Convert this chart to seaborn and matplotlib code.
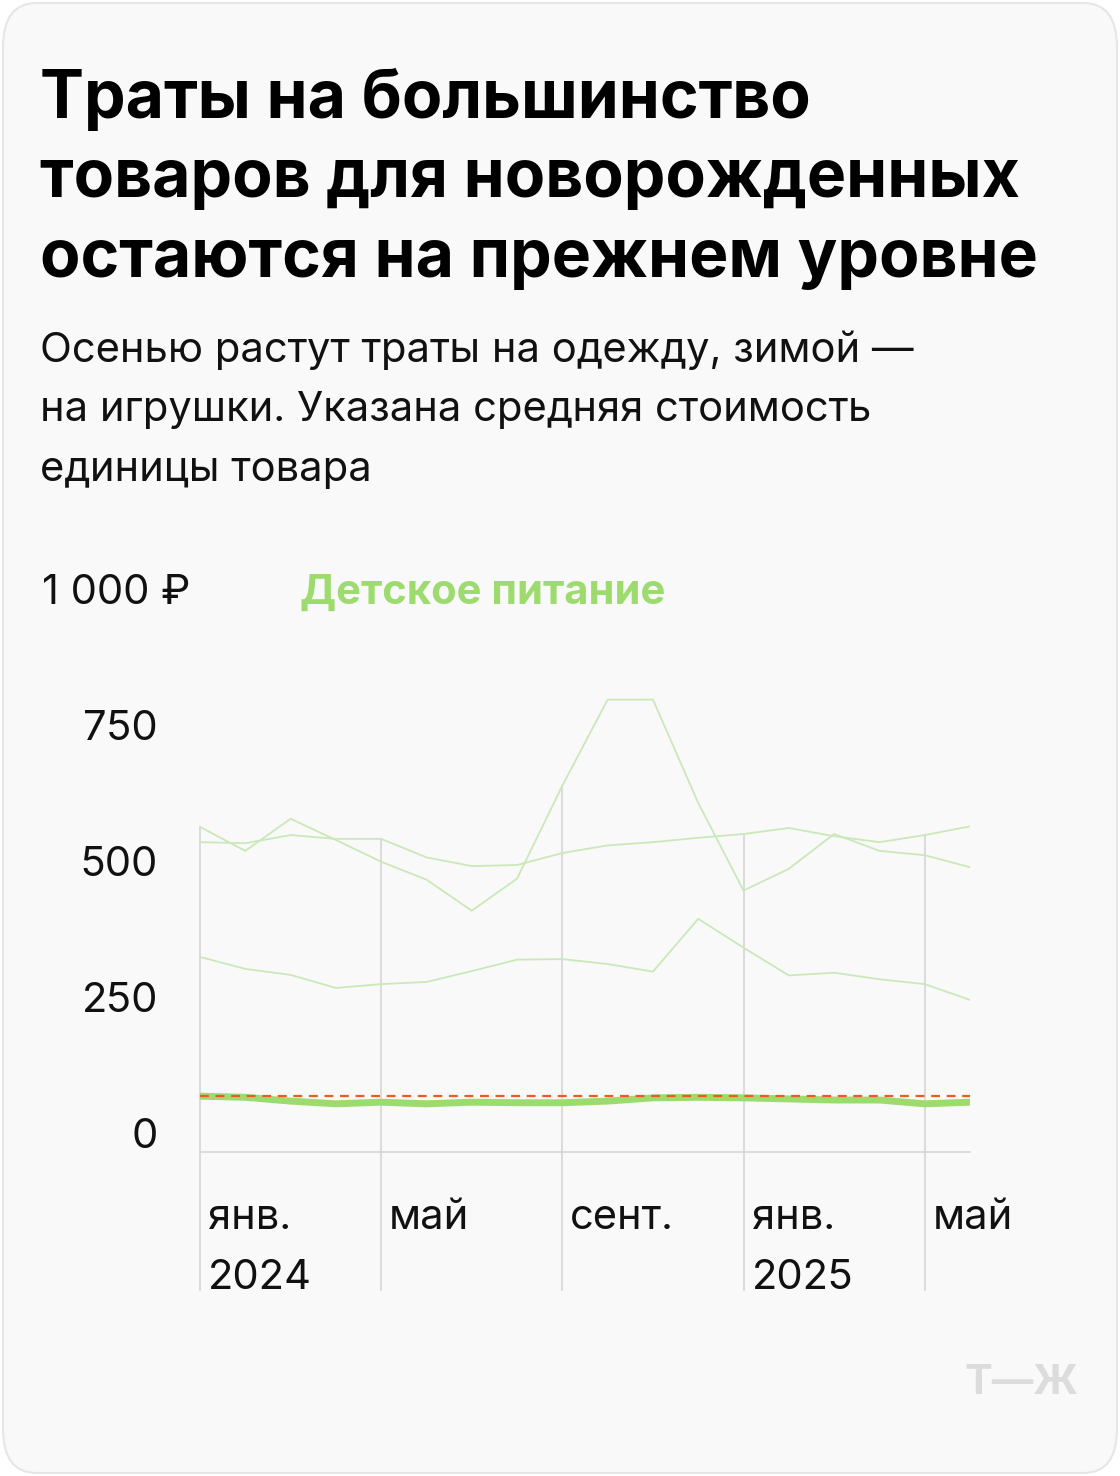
import matplotlib
matplotlib.use("Agg")
import matplotlib.pyplot as plt
import seaborn as sns
import pandas as pd
import numpy as np
from matplotlib.patches import FancyBboxPatch

months = list(range(18))
s_clothes = [570, 526, 585, 546, 506, 473, 416, 475, 646, 804, 804, 614, 453, 493, 557, 526, 518, 496]
s_toys = [542, 540, 555, 548, 548, 514, 498, 500, 522, 536, 542, 550, 557, 568, 553, 542, 555, 571]
s_other = [331, 309, 298, 274, 281, 285, 305, 326, 327, 318, 304, 401, 348, 297, 302, 290, 281, 252]
s_food = [75, 73, 66, 61, 64, 61, 64, 63, 63, 66, 72, 73, 72, 70, 68, 68, 61, 64]
avg_food = 75
tick_vals = [0, 250, 500, 750]
xt_pos = [0, 4, 8, 12, 16]
xt_lab = [("янв.", "2024"), ("май", ""), ("сент.", ""), ("янв.", "2025"), ("май", "")]

W, H = 1120, 1476
fig = plt.figure(figsize=(W/100, H/100), dpi=100)
fig.patch.set_facecolor("white")
card = FancyBboxPatch((3/W, 3/H), (W-6)/W, (H-6)/H, boxstyle="round,pad=0,rounding_size=0.03",
                      transform=fig.transFigure, facecolor="#f9f9f9", edgecolor="#e6e6e6", lw=1.5, zorder=-5)
fig.patches.append(card)

F = "Inter"
def ftxt(x, y, s, **kw):
    fig.text(x/W, 1-y/H, s, family=F, **kw)

for i, line in enumerate(["Траты на большинство", "товаров для новорожденных", "остаются на прежнем уровне"]):
    ftxt(40, 100+i*80, line, fontsize=47.5, weight="bold", va="center", color="#000")
for i, line in enumerate(["Осенью растут траты на одежду, зимой —", "на игрушки. Указана средняя стоимость", "единицы товара"]):
    ftxt(40, 350+i*60, line, fontsize=30, va="center", color="#111")

px0, px1, py0, py1 = 200, 970, 593, 1152
ax = fig.add_axes([px0/W, 1-py1/H, (px1-px0)/W, (py1-py0)/H])
ax.set_facecolor("none")
ymin = -15/0.544
ax.set_xlim(0, 17)
ax.set_ylim(ymin, 1000)
ax.axis("off")

df = pd.DataFrame({"m": months * 3, "v": s_clothes + s_toys + s_other,
                   "g": ["a"]*18 + ["b"]*18 + ["c"]*18})
allmax = np.max([s_clothes, s_toys, s_other], axis=0)
for p in xt_pos:
    ax.plot([p, p], [allmax[p], ymin - 138/0.544], color="#d6d6d6", lw=1.2, clip_on=False, zorder=1)
ax.plot([0, 17], [ymin, ymin], color="#d6d6d6", lw=1.2, clip_on=False)
sns.lineplot(data=df, x="m", y="v", units="g", estimator=None, color="#cbe8b8", lw=1.3, ax=ax, legend=False, zorder=2)
sns.lineplot(x=months, y=s_food, color="#9edb6e", lw=5, ax=ax, zorder=3)
ax.plot([0, 17], [avg_food]*2, color="#f05a22", lw=1.6, ls=(0, (4, 3)), zorder=4)

for v in tick_vals:
    ftxt(158, 1137 - v*0.544, str(v), fontsize=30, ha="right", va="center", color="#111")
ftxt(42, 593, "1 000 ₽", fontsize=30, va="center", color="#111")
ftxt(300, 593, "Детское питание", fontsize=30, weight="bold", va="center", color="#9edb6e")
for p, (a, b) in zip(xt_pos, xt_lab):
    x = 200 + p*770/17 + 8
    ftxt(x, 1218, a, fontsize=30, va="center", color="#111")
    if b:
        ftxt(x, 1278, b, fontsize=30, va="center", color="#111")
ftxt(1078, 1383, "Т—Ж", fontsize=30, weight="bold", ha="right", va="center", color="#dcdcdc")

fig.savefig("out.png", dpi=100, facecolor="white")
